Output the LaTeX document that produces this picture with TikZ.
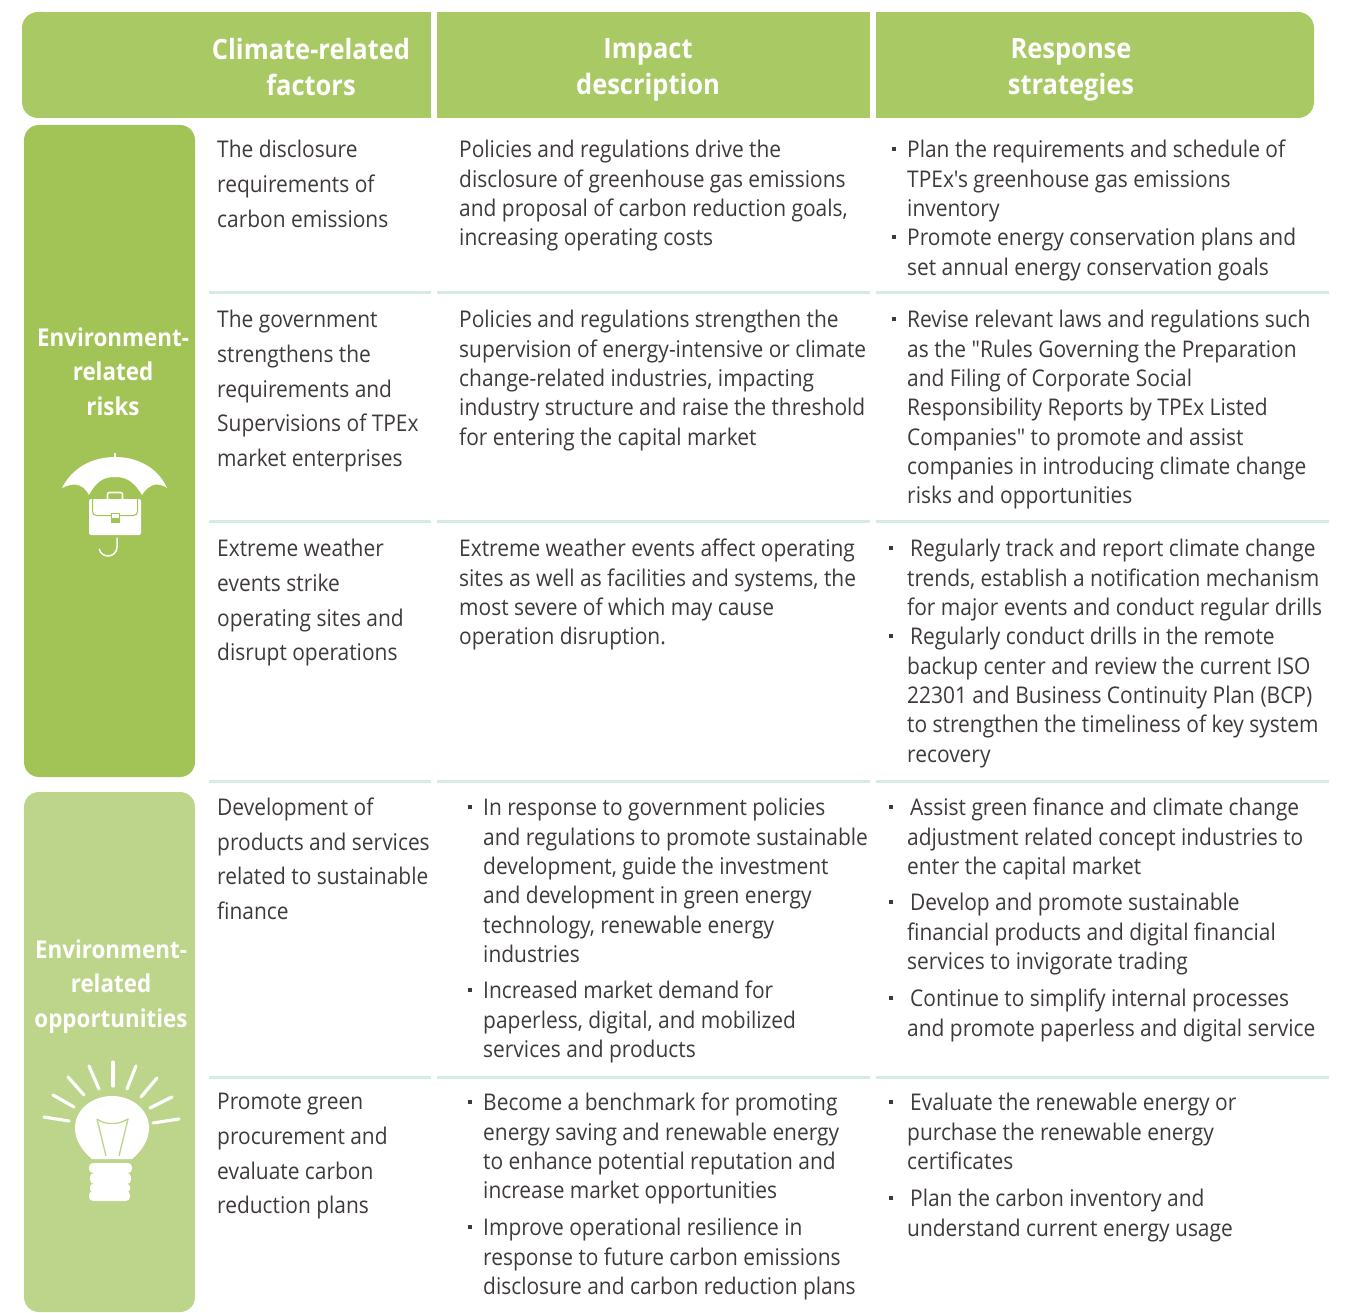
\documentclass[tikz,border=0pt]{standalone}
\usepackage{fontspec}
\setmainfont[FakeStretch=0.91,Ligatures=TeXOff]{Open Sans}
\definecolor{hdr}{HTML}{A8C964}
\definecolor{risk}{HTML}{A2C355}
\definecolor{opp}{HTML}{BDD58A}
\definecolor{rulec}{HTML}{D5EBE4}
\definecolor{txt}{HTML}{3E3A39}
\newcommand{\bul}{\llap{\raisebox{7pt}{\rule{3.8pt}{3.8pt}}\hspace{11pt}}}
\newcommand{\bulx}{\llap{\raisebox{7pt}{\rule{3.8pt}{3.8pt}}\hspace{14pt}}\hspace*{3pt}}
\tikzset{
  body/.style={anchor=north west,inner sep=0pt,align=left,text=txt,font=\fontsize{23}{29.35}\selectfont,execute at begin node={\rule{0pt}{18pt}}},
  factor/.style={body,font=\fontsize{23}{34.7}\selectfont},
  head/.style={anchor=north,inner sep=0pt,align=center,text=white,font=\fontsize{28}{36}\selectfont\bfseries,execute at begin node={\rule{0pt}{22pt}}},
  side/.style={head,font=\fontsize{24.6}{34.5}\selectfont\bfseries,execute at begin node={\rule{0pt}{20pt}}},
  rowrule/.style={draw=rulec,line width=3pt},
  ray/.style={draw=white,line width=3.2pt,line cap=round}
}
\begin{document}
\begin{tikzpicture}[x=1pt,y=-1pt]
\useasboundingbox (0,0) rectangle (1351,1313);
% header bands
\fill[hdr,rounded corners=16pt] (22,118) -- (22,12) -- (60,12) -- (60,118) -- cycle;
\fill[hdr] (40,12) rectangle (431,118);
\fill[hdr] (437,12) rectangle (870,118);
\fill[hdr,rounded corners=16pt] (1314,118) -- (1314,12) -- (1280,12) -- (1280,118) -- cycle;
\fill[hdr] (876,12) rectangle (1296,118);
\node[head] (h1) at (311,38) {Climate-related\\factors};
\node[head] (h2) at (648,38) {Impact\\description};
\node[head] (h3) at (1071,38) {Response\\strategies};
% side panels
\fill[risk,rounded corners=15pt] (24,125) rectangle (195,777);
\fill[opp,rounded corners=15pt] (24,792) rectangle (195,1312);
\node[side] (s1) at (113,327.5) {Environment-\\related\\risks};
\node[side] (s2) at (111,939.5) {Environment-\\related\\opportunities};
% umbrella icon
\fill[white] (62,488) .. controls (72,468) and (92,457) .. (115,457) .. controls (138,457) and (158,468) .. (167,488)
  .. controls (160,483) and (150,482) .. (142,495) .. controls (133,480) and (125,477) .. (115,477)
  .. controls (105,477) and (97,480) .. (89,495) .. controls (82,482) and (72,483) .. (62,488) -- cycle;
\draw[white,line width=1.6pt] (115,453) -- (115,458);
\draw[white,line width=1.6pt,rounded corners=2pt] (107.5,499) -- (107.5,492.5) -- (122.5,492.5) -- (122.5,499);
\fill[white,rounded corners=2pt] (89,499) rectangle (141,535);
\draw[risk,line width=1pt,rounded corners=4pt] (92.5,499) -- (92.5,515.5) -- (137.5,515.5) -- (137.5,499);
\fill[risk] (110.5,513) rectangle (119.5,523);
\fill[white] (111.5,514) rectangle (118.5,518);
\draw[white,line width=1.5pt,line cap=round] (117,538) -- (117,547) arc[start angle=0,end angle=-165,radius=9pt];
% bulb icon
\fill[white] (92,1159) .. controls (58,1130) and (80,1096) .. (112,1096) .. controls (144,1096) and (166,1130) .. (132,1159) -- cycle;
\fill[white,rounded corners=4pt] (89,1163) rectangle (132,1173);
\fill[white,rounded corners=4pt] (90,1173) rectangle (131,1184);
\fill[white,rounded corners=3pt] (90,1184) rectangle (130,1192);
\fill[white,rounded corners=4pt] (89,1191) rectangle (130,1201);
\draw[opp,line width=1.3pt,line join=round] (97,1119) .. controls (103,1124) and (117,1126) .. (128,1119) -- (119,1156) (97,1119) -- (106,1156);
\foreach \a/\b/\c/\d in {44/1117/69/1121, 53/1095/74/1107, 68/1077/84/1095, 89/1066/99/1089, 113/1062/113/1086, 136/1066/127/1089, 157/1078/141/1097, 172/1097/150/1108, 179/1119/153/1123}
  \draw[ray] (\a,\b) -- (\c,\d);
% row rules
\foreach \y in {293,521,781,1077} {
  \draw[rowrule] (209,\y) -- (431,\y);
  \draw[rowrule] (437,\y) -- (870,\y);
  \draw[rowrule] (876,\y) -- (1329,\y);
}
% row 1
\node[factor] (f1) at (217,140) {The disclosure\\requirements of\\carbon emissions};
\node[body] (i1) at (459,140) {Policies and regulations drive the\\disclosure of greenhouse gas emissions\\and proposal of carbon reduction goals,\\increasing operating costs};
\node[body] (r1) at (907,140) {\bul Plan the requirements and schedule of\\TPEx's greenhouse gas emissions\\inventory\\\bul Promote energy conservation plans and\\set annual energy conservation goals};
% row 2
\node[factor] (f2) at (217,310) {The government\\strengthens the\\requirements and\\Supervisions of TPEx\\market enterprises};
\node[body] (i2) at (459,310) {Policies and regulations strengthen the\\supervision of energy-intensive or climate\\change-related industries, impacting\\industry structure and raise the threshold\\for entering the capital market};
\node[body] (r2) at (907,310) {\bul Revise relevant laws and regulations such\\as the "Rules Governing the Preparation\\and Filing of Corporate Social\\Responsibility Reports by TPEx Listed\\Companies" to promote and assist\\companies in introducing climate change\\risks and opportunities};
% row 3
\node[factor] (f3) at (217,539) {Extreme weather\\events strike\\operating sites and\\disrupt operations};
\node[body] (i3) at (459,539) {Extreme weather events affect operating\\sites as well as facilities and systems, the\\most severe of which may cause\\operation disruption.};
\node[body] (r3) at (907,539) {\bulx Regularly track and report climate change\\trends, establish a notification mechanism\\for major events and conduct regular drills\\\bulx Regularly conduct drills in the remote\\backup center and review the current ISO\\22301 and Business Continuity Plan (BCP)\\to strengthen the timeliness of key system\\recovery};
% row 4
\node[factor] (f4) at (217,797.5) {Development of\\products and services\\related to sustainable\\finance};
\node[body] (i4a) at (483,798) {\bul In response to government policies\\and regulations to promote sustainable\\development, guide the investment\\and development in green energy\\technology, renewable energy\\industries};
\node[body] (i4b) at (483,981) {\bul Increased market demand for\\paperless, digital, and mobilized\\services and products};
\node[body] (r4a) at (907,798) {\bulx Assist green finance and climate change\\adjustment related concept industries to\\enter the capital market};
\node[body] (r4b) at (907,893) {\bulx Develop and promote sustainable\\financial products and digital financial\\services to invigorate trading};
\node[body] (r4c) at (907,989) {\bulx Continue to simplify internal processes\\and promote paperless and digital service};
% row 5
\node[factor] (f5) at (217,1093) {Promote green\\procurement and\\evaluate carbon\\reduction plans};
\node[body] (i5a) at (483,1093) {\bul Become a benchmark for promoting\\energy saving and renewable energy\\to enhance potential reputation and\\increase market opportunities};
\node[body] (i5b) at (483,1218) {\bul Improve operational resilience in\\response to future carbon emissions\\disclosure and carbon reduction plans};
\node[body] (r5a) at (907,1093) {\bulx Evaluate the renewable energy or\\purchase the renewable energy\\certificates};
\node[body] (r5b) at (907,1189) {\bulx Plan the carbon inventory and\\understand current energy usage};
\end{tikzpicture}
\end{document}
